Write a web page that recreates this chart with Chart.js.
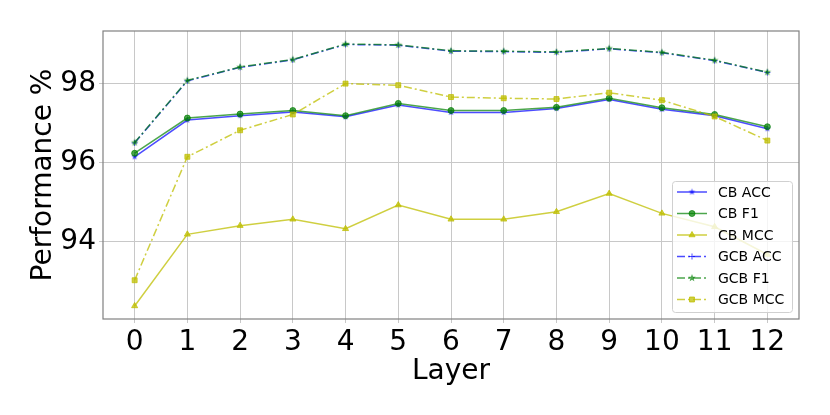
<!DOCTYPE html>
<html>
<head>
<meta charset="utf-8">
<script src="https://cdn.jsdelivr.net/npm/chart.js@4/dist/chart.umd.min.js"></script>
<style>
  html, body { margin: 0; padding: 0; background: #fff; }
  #wrap { width: 830px; height: 415px; }
</style>
</head>
<body>
<div id="wrap"><canvas id="perfChart" width="830" height="415"></canvas></div>
<script>
// layers on the x axis
const layers = [0, 1, 2, 3, 4, 5, 6, 7, 8, 9, 10, 11, 12];
const yTickValues = [94, 96, 98];

// values (percent)
const cbAcc  = [96.14, 97.07, 97.18, 97.27, 97.15, 97.45, 97.26, 97.26, 97.36, 97.59, 97.34, 97.18, 96.85];
const cbF1   = [96.23, 97.12, 97.22, 97.31, 97.18, 97.49, 97.31, 97.31, 97.39, 97.62, 97.38, 97.21, 96.90];
const cbMcc  = [92.37, 94.18, 94.40, 94.56, 94.32, 94.92, 94.56, 94.56, 94.75, 95.21, 94.71, 94.37, 93.67];
const gcbAcc = [96.49, 98.06, 98.40, 98.59, 98.98, 98.96, 98.81, 98.80, 98.78, 98.87, 98.77, 98.57, 98.27];
const gcbF1  = [96.50, 98.07, 98.41, 98.60, 98.99, 98.97, 98.82, 98.81, 98.79, 98.88, 98.78, 98.58, 98.28];
const gcbMcc = [93.02, 96.14, 96.81, 97.21, 97.99, 97.95, 97.65, 97.62, 97.60, 97.76, 97.57, 97.16, 96.55];

const BLUE = 'rgba(0, 0, 255, 0.7)';
const GREEN = 'rgba(0, 128, 0, 0.7)';
const YELLOW = 'rgba(191, 191, 0, 0.75)';
const DASHDOT = [8, 3, 2, 3];

// filled five point star like matplotlib's '*' marker
function starMarker(color, r) {
    const size = Math.ceil(r * 2 + 2);
    const c = document.createElement('canvas');
    c.width = size;
    c.height = size;
    const g = c.getContext('2d');
    const cx = size / 2, cy = size / 2;
    g.fillStyle = color;
    g.beginPath();
    for (let k = 0; k < 10; k++) {
        const rad = k % 2 === 0 ? r : r * 0.42;
        const ang = -Math.PI / 2 + k * Math.PI / 5;
        const px = cx + rad * Math.cos(ang);
        const py = cy + rad * Math.sin(ang);
        if (k === 0) g.moveTo(px, py); else g.lineTo(px, py);
    }
    g.closePath();
    g.fill();
    return c;
}

function toPoints(values) {
    return values.map((v, i) => ({ x: layers[i], y: v }));
}

function makeSeries(label, values, color, pointStyle, radius, dashed) {
    return {
        label: label,
        data: toPoints(values),
        borderColor: color,
        backgroundColor: color,
        pointBackgroundColor: color,
        pointBorderColor: color,
        borderWidth: 1.5,
        borderDash: dashed ? DASHDOT : [],
        pointStyle: pointStyle,
        pointRadius: radius,
        pointBorderWidth: 1,
        tension: 0
    };
}

const series = [
    makeSeries('CB ACC', cbAcc, BLUE, starMarker(BLUE, 3.5), 3.5, false),
    makeSeries('CB F1', cbF1, GREEN, 'circle', 3, false),
    makeSeries('CB MCC', cbMcc, YELLOW, 'triangle', 3.5, false),
    makeSeries('GCB ACC', gcbAcc, BLUE, 'cross', 3, true),
    makeSeries('GCB F1', gcbF1, GREEN, starMarker(GREEN, 4), 4, true),
    makeSeries('GCB MCC', gcbMcc, YELLOW, 'rect', 3.5, true)
];
// matplotlib draws later series on top
series.forEach((s, i) => { s.order = series.length - i; });

// axes frame on all four sides
const framePlugin = {
    id: 'frame',
    afterDraw(chart) {
        const a = chart.chartArea;
        const ctx = chart.ctx;
        ctx.save();
        ctx.strokeStyle = '#808080';
        ctx.lineWidth = 1.2;
        ctx.strokeRect(a.left, a.top, a.right - a.left, a.bottom - a.top);
        ctx.restore();
    }
};

// legend box inside the plot, lower right
const insideLegend = {
    id: 'insideLegend',
    afterDraw(chart) {
        const ctx = chart.ctx;
        const a = chart.chartArea;
        const boxW = 120, boxH = 131;
        const x0 = a.right - 7 - boxW;
        const y0 = a.bottom - 7 - boxH;
        ctx.save();
        ctx.fillStyle = 'rgba(255,255,255,0.8)';
        ctx.strokeStyle = '#d0d0d0';
        ctx.lineWidth = 1;
        ctx.beginPath();
        ctx.roundRect(x0 + 0.5, y0 + 0.5, boxW, boxH, 3);
        ctx.fill();
        ctx.stroke();

        ctx.font = '14px "DejaVu Sans"';
        ctx.textBaseline = 'middle';
        ctx.textAlign = 'left';
        chart.data.datasets.forEach((ds, i) => {
            const cy = y0 + 11 + i * 21.5;
            ctx.save();
            ctx.strokeStyle = ds.borderColor;
            ctx.lineWidth = ds.borderWidth;
            ctx.setLineDash(ds.borderDash);
            ctx.beginPath();
            ctx.moveTo(x0 + 5, cy);
            ctx.lineTo(x0 + 35, cy);
            ctx.stroke();
            ctx.setLineDash([]);
            ctx.fillStyle = ds.pointBackgroundColor;
            ctx.strokeStyle = ds.pointBorderColor;
            ctx.lineWidth = 1;
            Chart.helpers.drawPoint(ctx, {
                pointStyle: ds.pointStyle,
                radius: ds.pointRadius,
                rotation: 0,
                borderWidth: 1
            }, x0 + 20, cy);
            ctx.restore();
            ctx.fillStyle = '#000';
            ctx.fillText(ds.label, x0 + 46, cy + 1);
        });
        ctx.restore();
    }
};

const ctx = document.getElementById('perfChart').getContext('2d');
const chart = new Chart(ctx, {
    type: 'line',
    data: { datasets: series },
    options: {
        responsive: false,
        animation: false,
        layout: { padding: { top: 31, right: 31, left: 0, bottom: 0 } },
        plugins: {
            legend: { display: false },
            tooltip: { enabled: false }
        },
        scales: {
            x: {
                type: 'linear',
                min: -0.6,
                max: 12.6,
                afterBuildTicks: (scale) => {
                    scale.ticks = layers.map(v => ({ value: v }));
                },
                afterFit: (scale) => { scale.height = 96; },
                grid: { color: '#c8c8c8', lineWidth: 1, tickLength: 4 },
                border: { display: false },
                ticks: {
                    color: '#000',
                    padding: 3,
                    maxRotation: 0,
                    autoSkip: false,
                    font: { family: 'DejaVu Sans', size: 28 },
                    callback: (v) => String(v)
                },
                title: {
                    display: true,
                    text: 'Layer',
                    color: '#000',
                    font: { family: 'DejaVu Sans', size: 28 },
                    padding: { top: 0, bottom: 26 }
                }
            },
            y: {
                min: 92.04,
                max: 99.32,
                afterBuildTicks: (scale) => {
                    scale.ticks = yTickValues.map(v => ({ value: v }));
                },
                afterFit: (scale) => { scale.width = 103; },
                grid: { color: '#c8c8c8', lineWidth: 1, tickLength: 4 },
                border: { display: false },
                ticks: {
                    color: '#000',
                    padding: 3,
                    font: { family: 'DejaVu Sans', size: 28 },
                    callback: (v) => String(v)
                },
                title: {
                    display: true,
                    text: 'Performance %',
                    color: '#000',
                    font: { family: 'DejaVu Sans', size: 28 },
                    padding: { top: 27, bottom: 0 }
                }
            }
        }
    },
    plugins: [framePlugin, insideLegend]
});
</script>
</body>
</html>
